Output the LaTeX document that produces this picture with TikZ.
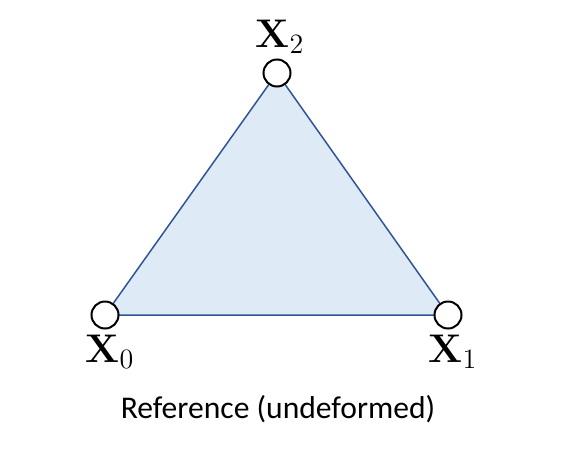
\documentclass[tikz,border=0pt]{standalone}
\usepackage{fontspec}
\newfontfamily\capfont{Carlito}
\definecolor{triFill}{RGB}{222,235,247}
\definecolor{triEdge}{RGB}{47,85,151}
\newcommand\vx[1]{\textbf{X}\textsubscript{#1}}

\begin{document}
\begin{tikzpicture}[x=0.5pt,y=-0.5pt,
    vert/.style={circle,draw=black,fill=white,line width=1pt,minimum size=13.5pt,inner sep=0pt},
    vlabel/.style={anchor=base,font=\fontsize{20}{22}\selectfont}]
        \useasboundingbox (0,0) rectangle (567,450);
        \coordinate (p0) at (105,315);
        \coordinate (p1) at (448,315);
        \coordinate (p2) at (277,73);
        \draw[fill=triFill,draw=triEdge,line width=0.75pt,line join=round] (p0) -- (p1) -- (p2) -- cycle;
        \node[vert] (x0) at (p0) {};
        \node[vert] (x1) at (p1) {};
        \node[vert] (x2) at (p2) {};
        \node[vlabel] (l0) at (110,362) {\vx{0}};
        \node[vlabel] (l1) at (453,362) {\vx{1}};
        \node[vlabel] (l2) at (280,47) {\vx{2}};
        \node[anchor=base,font=\capfont\fontsize{15.8}{19}\selectfont] (cap) at (278,418) {Reference (undeformed)};
    \end{tikzpicture}
\end{document}
